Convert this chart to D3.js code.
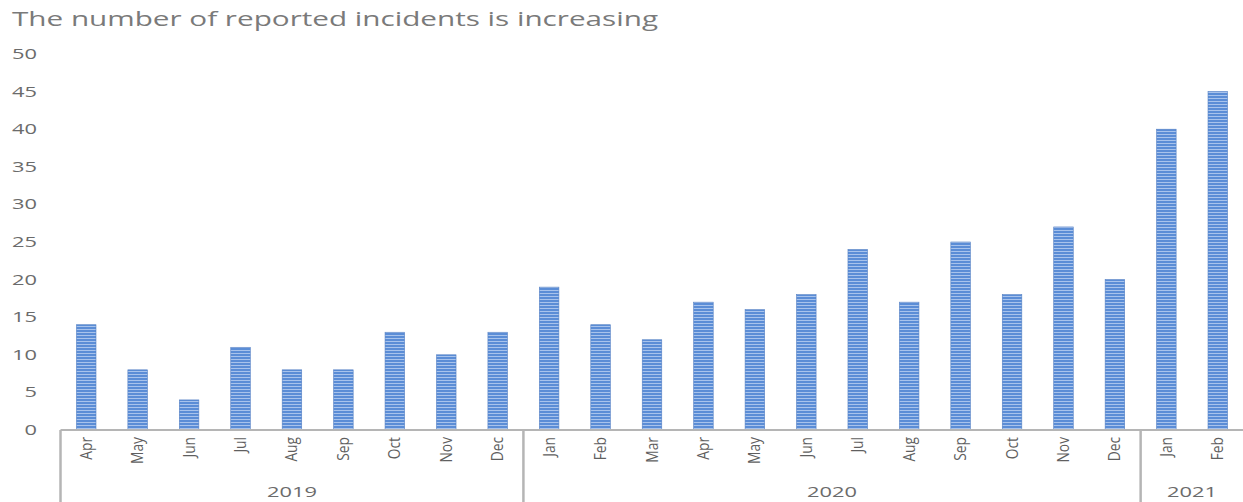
<!DOCTYPE html>
<html>
<head>
<meta charset="utf-8">
<script src="https://cdn.jsdelivr.net/npm/d3@7"></script>
<style>
  body { margin: 0; background: #fff; }
  svg text { fill: #6b6b6b; }
</style>
</head>
<body>
<svg id="chart" width="1243" height="502"></svg>
<script>
// data
var months = ["Apr","May","Jun","Jul","Aug","Sep","Oct","Nov","Dec",
              "Jan","Feb","Mar","Apr","May","Jun","Jul","Aug","Sep","Oct","Nov","Dec",
              "Jan","Feb"];
var years = ["2019","2019","2019","2019","2019","2019","2019","2019","2019",
             "2020","2020","2020","2020","2020","2020","2020","2020","2020","2020","2020","2020",
             "2021","2021"];
var incidents = [14,8,4,11,8,8,13,10,13,19,14,12,17,16,18,24,17,25,18,27,20,40,45];
var yTicks = [0,5,10,15,20,25,30,35,40,45,50];
var title = "The number of reported incidents is increasing";

var svg = d3.select("#chart");
var plotLeft = 60.5, plotRight = 1243.5, plotTop = 54, plotBottom = 430;

var keys = d3.range(incidents.length);
var x = d3.scaleBand().domain(keys).range([plotLeft, plotRight]).paddingInner(0.62).paddingOuter(0.31);
var y = d3.scaleLinear().domain([0, 50]).range([plotBottom, plotTop]);

// striped bar fill
var defs = svg.append("defs");
var pat = defs.append("pattern").attr("id", "stripes")
  .attr("patternUnits", "userSpaceOnUse").attr("width", 4).attr("height", 3);
pat.append("rect").attr("width", 4).attr("height", 3).attr("fill", "#5b8dd6");
pat.append("rect").attr("y", 2).attr("width", 4).attr("height", 1).attr("fill", "#a8c3ec");

// title (the source picture is stretched sideways)
svg.append("text").attr("x", 12).attr("y", 26)
  .attr("font-family", "'Open Sans', sans-serif").attr("font-size", 20)
  .style("fill", "#7a7a7a")
  .attr("textLength", 646).attr("lengthAdjust", "spacingAndGlyphs")
  .text(title);

// y tick labels
svg.append("g").selectAll("text").data(yTicks).join("text")
  .attr("x", 37).attr("y", function(d) { return y(d) + 5; })
  .attr("text-anchor", "end")
  .attr("font-family", "'Open Sans', sans-serif").attr("font-size", 14)
  .attr("textLength", function(d) { return String(d).length * 12.5; })
  .attr("lengthAdjust", "spacingAndGlyphs")
  .text(function(d) { return d; });

// bars
svg.append("g").selectAll("rect").data(keys).join("rect")
  .attr("x", function(i) { return x(i); })
  .attr("width", x.bandwidth())
  .attr("y", function(i) { return y(incidents[i]); })
  .attr("height", function(i) { return y(0) - y(incidents[i]); })
  .attr("fill", "url(#stripes)")
  .attr("stroke", "#5580c4").attr("stroke-width", 0.6);

// axis line
var step = x.step();
svg.append("line").attr("x1", plotLeft).attr("x2", plotRight).attr("y1", plotBottom).attr("y2", plotBottom)
  .attr("stroke", "#b5b5b5").attr("stroke-width", 2);

// month labels, condensed like the source
svg.append("g").selectAll("text").data(keys).join("text")
  .attr("transform", function(i) {
    return "translate(" + (x(i) + x.bandwidth() / 2 + 5.5) + "," + (plotBottom + 7) + ") rotate(-90) scale(0.86,1)";
  })
  .attr("text-anchor", "end")
  .attr("font-family", "'Open Sans', sans-serif")
  .attr("font-size", 16)
  .style("fill", "#5f5f5f")
  .text(function(i) { return months[i]; });

// year groups
var groups = d3.groups(keys, function(i) { return years[i]; });
var bounds = [plotLeft];
groups.forEach(function(g) {
  var last = g[1][g[1].length - 1];
  bounds.push(x(last) + x.bandwidth() / 2 + step / 2);
});
svg.append("g").selectAll("line").data(bounds.slice(0, -1)).join("line")
  .attr("x1", function(d) { return d; }).attr("x2", function(d) { return d; })
  .attr("y1", plotBottom).attr("y2", 502)
  .attr("stroke", "#b5b5b5").attr("stroke-width", 2.5);

svg.append("g").selectAll("text").data(groups).join("text")
  .attr("x", function(g, k) { return (bounds[k] + Math.min(bounds[k + 1], plotRight)) / 2; })
  .attr("y", 497)
  .attr("text-anchor", "middle")
  .attr("font-family", "'Open Sans', sans-serif").attr("font-size", 15)
  .attr("textLength", 50).attr("lengthAdjust", "spacingAndGlyphs")
  .text(function(g) { return g[0]; });
</script>
</body>
</html>
